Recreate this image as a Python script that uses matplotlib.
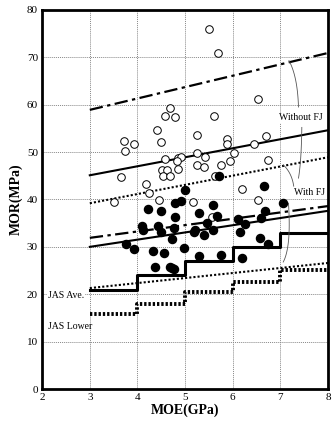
import numpy as np
import matplotlib
matplotlib.use("Agg")
import matplotlib.pyplot as plt

plt.rcParams['font.family'] = ['Liberation Serif', 'DejaVu Serif']

# MOE (GPa) / MOR (MPa) - specimens without finger joints (open circles)
moe_without = [4.69, 4.58, 4.78, 4.42, 4.49, 3.71, 3.92, 3.74, 4.58, 4.86, 4.91, 4.84,
               4.51, 4.63, 4.86, 4.54, 4.69, 3.65, 4.18, 5.25, 5.25, 5.25, 6.54, 5.61,
               5.89, 5.87, 6.44, 6.70, 5.42, 6.02, 5.39, 5.95, 5.75, 6.73, 6.20, 5.63,
               5.51, 5.70, 4.25, 3.51, 4.46, 5.17, 6.53, 5.56]
mor_without = [59.2, 57.7, 57.3, 54.6, 52.2, 52.4, 51.6, 50.3, 48.5, 48.8, 48.9, 48.1,
               46.2, 46.3, 46.4, 45.0, 44.9, 44.7, 43.2, 53.7, 49.7, 47.3, 61.1, 57.6,
               52.7, 51.8, 51.8, 53.4, 48.9, 49.9, 46.8, 48.1, 47.3, 48.3, 42.3, 44.9,
               75.9, 70.8, 41.4, 39.4, 39.9, 39.4, 39.9, 36.4]

# specimens with finger joints (filled circles)
moe_with = [5.00, 4.79, 4.92, 4.23, 4.49, 4.79, 5.30, 4.09, 4.12, 4.44, 4.49, 4.76,
            4.72, 3.76, 3.93, 4.33, 4.56, 4.98, 4.36, 4.69, 4.77, 4.72, 5.21, 5.72,
            6.65, 5.59, 7.06, 5.66, 6.68, 6.60, 6.12, 6.26, 6.16, 5.18, 5.45, 5.39,
            5.59, 6.57, 6.74, 5.30, 5.76, 6.20]
mor_with = [42.0, 39.3, 39.7, 37.9, 37.6, 36.4, 37.2, 34.4, 33.5, 34.4, 33.2, 33.9,
            31.6, 30.7, 29.6, 29.2, 28.8, 29.8, 25.8, 25.8, 25.3, 25.5, 33.5, 44.9,
            42.8, 38.8, 39.2, 36.5, 37.6, 36.1, 35.8, 34.8, 33.2, 33.2, 35.0, 32.5,
            33.5, 31.8, 30.5, 28.1, 28.3, 27.6]

# regression / limit lines: MOR at MOE = 3 and 8
line_x = [3, 8]
without_upper = [58.9, 70.9]
without_mean = [45.1, 54.6]
without_lower = [39.2, 48.9]
with_upper = [31.9, 38.6]
with_mean = [30.0, 37.6]
with_lower = [21.3, 26.6]

# JAS step standards
jas_x = [3, 4, 5, 6, 7, 8]
jas_ave = [21, 24, 27, 30, 33, 33]
jas_lower = [15.8, 18.0, 20.4, 22.5, 25.1, 25.1]

fig = plt.figure(figsize=(3.32, 4.28), dpi=100)
ax = fig.add_axes([0.127, 0.091, 0.861, 0.886])

for v in range(3, 8):
    ax.axvline(v, color='#888888', ls=(0, (1, 1)), lw=0.7, zorder=0)
for v in range(10, 80, 10):
    ax.axhline(v, color='#888888', ls=(0, (1, 1)), lw=0.7, zorder=0)

ax.plot(line_x, without_upper, color='black', lw=1.6, ls=(0, (6, 2, 1.5, 2)))
ax.plot(line_x, without_mean, color='black', lw=1.5)
ax.plot(line_x, without_lower, color='black', lw=1.5, ls=(0, (1, 1)))
ax.plot(line_x, with_upper, color='black', lw=1.6, ls=(0, (6, 2, 1.5, 2)))
ax.plot(line_x, with_mean, color='black', lw=1.5)
ax.plot(line_x, with_lower, color='black', lw=1.5, ls=(0, (1, 1)))

ax.step(jas_x, jas_ave, where='post', color='black', lw=2.2)
ax.step(jas_x, jas_lower, where='post', color='black', lw=2.8, ls=(0, (0.6, 0.5)))

ax.scatter(moe_without, mor_without, s=30, facecolors='white', edgecolors='black',
           linewidths=0.7, zorder=3)
ax.scatter(moe_with, mor_with, s=34, color='black', zorder=4)

# bracket curves for the annotations
brackets = [
    [(7.18, 69.3), (7.36, 66.0), (7.38, 59.5)],
    [(7.45, 55.2), (7.44, 48.0), (7.38, 44.5)],
    [(7.06, 47.3), (7.24, 45.6), (7.28, 42.8)],
    [(7.17, 39.2), (7.23, 30.0), (7.06, 26.8)],
]
for pts in brackets:
    (x0, y0), (x1, y1), (x2, y2) = pts
    t = np.linspace(0, 1, 30)
    bx = (1 - t) ** 2 * x0 + 2 * (1 - t) * t * x1 + t ** 2 * x2
    by = (1 - t) ** 2 * y0 + 2 * (1 - t) * t * y1 + t ** 2 * y2
    ax.plot(bx, by, color='#555555', lw=0.6)

ax.text(7.42, 57.2, 'Without FJ', fontsize=7, ha='center', va='center',
        bbox=dict(facecolor='white', edgecolor='none', pad=0.5))
ax.text(7.62, 41.4, 'With FJ', fontsize=7, ha='center', va='center',
        bbox=dict(facecolor='white', edgecolor='none', pad=0.5))
ax.text(2.12, 19.7, 'JAS Ave.', fontsize=7, ha='left', va='center',
        bbox=dict(facecolor='white', edgecolor='none', pad=0.3))
ax.text(2.12, 13.1, 'JAS Lower', fontsize=7, ha='left', va='center')

ax.set_xlim(2, 8)
ax.set_ylim(0, 80)
ax.set_xticks(range(2, 9))
ax.set_yticks(range(0, 81, 10))
ax.tick_params(length=0, labelsize=8, pad=3)
for s in ax.spines.values():
    s.set_linewidth(2)
ax.set_xlabel('MOE(GPa)', fontsize=10, fontweight='bold', labelpad=1)
ax.set_ylabel('MOR(MPa)', fontsize=10, fontweight='bold', labelpad=3)

fig.savefig('out.png', dpi=100)
